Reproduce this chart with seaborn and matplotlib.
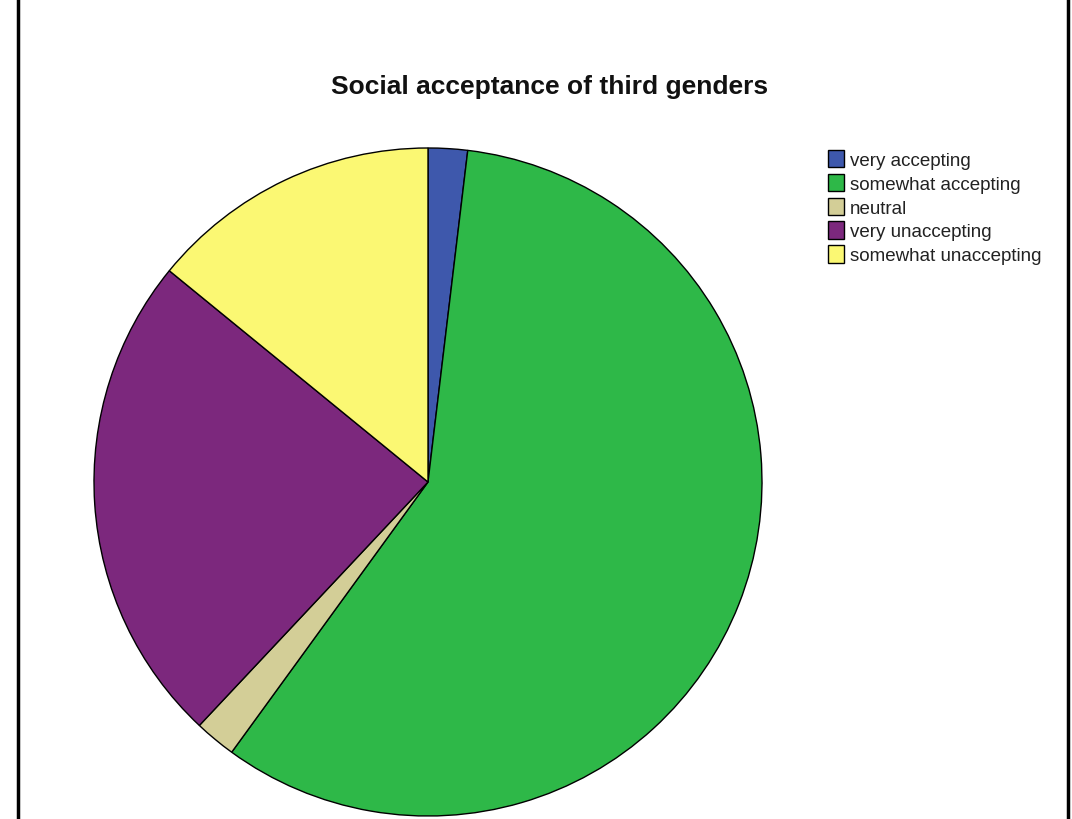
import matplotlib
matplotlib.use("Agg")
import matplotlib.pyplot as plt
from matplotlib.lines import Line2D
import seaborn as sns

categories = ["very accepting", "somewhat accepting", "neutral",
              "very unaccepting", "somewhat unaccepting"]
percentages = [1.9, 58.1, 2.0, 23.9, 14.1]
colors = ["#3E58AC", "#2EB848", "#D3CE97", "#7C287D", "#FBF873"]
title = "Social acceptance of third genders"

sns.set_theme(style="white")
plt.rcParams["font.family"] = ["Liberation Sans", "DejaVu Sans"]

W, H = 1072, 820
fig = plt.figure(figsize=(W / 100, H / 100), dpi=100)
fig.patch.set_facecolor("white")

cx, cy, r = 428, 483, 334
ax = fig.add_axes([(cx - r) / W, (H - cy - r) / H, 2 * r / W, 2 * r / H])
wedges, _ = ax.pie(percentages, colors=colors, startangle=90, counterclock=False,
                   radius=1.0, wedgeprops=dict(edgecolor="black", linewidth=1.0))
ax.set_xlim(-1.0, 1.0)
ax.set_ylim(-1.0, 1.0)
ax.set_aspect("equal")
ax.axis("off")

fig.text(550 / W, 1 - 87 / H, title, ha="center", va="center",
         fontsize=19, fontweight="bold", color="#111111")

leg = fig.legend(wedges, categories, loc="upper left",
                 bbox_to_anchor=(828 / W, 1 - 151 / H), frameon=False,
                 fontsize=13.5, handlelength=0.85, handleheight=1.05,
                 handletextpad=0.3, labelspacing=0.25, borderpad=0,
                 borderaxespad=0)
for t in leg.get_texts():
    t.set_color("#222222")

for x in (18, 1068):
    fig.add_artist(Line2D([x / W, x / W], [0, 1], transform=fig.transFigure,
                          color="black", linewidth=2.5))

fig.savefig("out.png", dpi=100, facecolor="white")
